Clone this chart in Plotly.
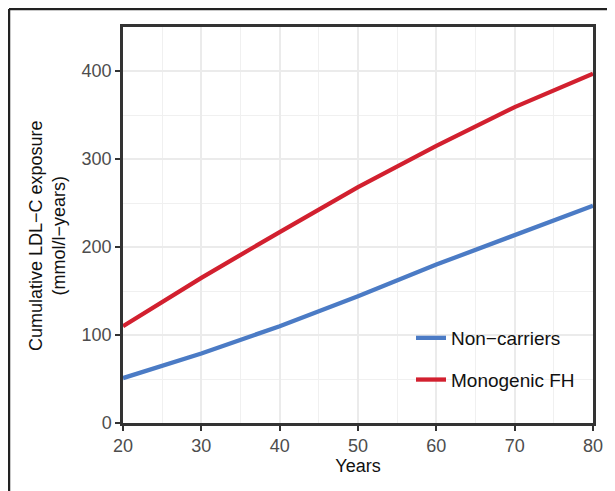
import plotly.graph_objects as go

years = [20, 30, 40, 50, 60, 70, 80]
non_carriers = [51, 79, 110, 144, 180, 214, 247]
monogenic_fh = [110, 165, 217, 268, 315, 359, 397]
series_names = ["Non\u2212carriers", "Monogenic FH"]
x_ticks = [20, 30, 40, 50, 60, 70, 80]
y_ticks = [0, 100, 200, 300, 400]
y_title = "Cumulative LDL\u2212C exposure<br>(mmol/l\u2212years)"
x_title = "Years"

BLUE = "#4B7BC5"
RED = "#D2202F"
FONT = "Liberation Sans, Arial, Helvetica, sans-serif"

# page has an 8px body margin; figure is sized to fit the window
OFF = 8
W, H = 615 - OFF, 491 - OFF
L, R, T, B = 115, 22, 19, 68
PW, PH = W - L - R, H - T - B


def px_x(page_x):
    return (page_x - OFF - L) / PW


def px_y(page_y):
    return (H - B - (page_y - OFF)) / PH


fig = go.Figure()
fig.add_trace(go.Scatter(x=years, y=non_carriers, mode="lines", name=series_names[0],
                         line=dict(color=BLUE, width=4.3), legendgroup="a"))
fig.add_trace(go.Scatter(x=years, y=monogenic_fh, mode="lines", name=series_names[1],
                         line=dict(color=RED, width=4.3), legendgroup="b"))

axis_common = dict(
    showline=True, linecolor="#333333", linewidth=2.5, mirror=True,
    ticks="outside", ticklen=5, tickwidth=2, tickcolor="#333333",
    tickfont=dict(family=FONT, size=18, color="#4d4d4d"),
    showgrid=True, gridcolor="#EBEBEB", gridwidth=1.5,
    zeroline=False,
)

fig.update_xaxes(
    range=[20, 80], tickvals=x_ticks,
    minor=dict(dtick=5, tick0=0, showgrid=True, gridcolor="#F0F0F0", gridwidth=1, ticks=""),
    title=dict(text=x_title, font=dict(family=FONT, size=18, color="#111111"), standoff=4),
    **axis_common,
)
fig.update_yaxes(
    range=[0, 450], tickvals=y_ticks,
    minor=dict(dtick=50, tick0=0, showgrid=True, gridcolor="#F0F0F0", gridwidth=1, ticks=""),
    **axis_common,
)

fig.add_annotation(text=y_title, textangle=-90, xref="paper", yref="paper",
                   x=px_x(47), y=px_y(236), xanchor="center", yanchor="middle",
                   showarrow=False, align="center",
                   font=dict(family=FONT, size=18, color="#111111"))

# outer frame (top and left edges visible)
fx = px_x(OFF + 1)
fy = px_y(OFF + 1)
fig.add_shape(type="line", xref="paper", yref="paper", x0=fx, x1=1.2, y0=fy, y1=fy,
              line=dict(color="#222222", width=2.5))
fig.add_shape(type="line", xref="paper", yref="paper", x0=fx, x1=fx, y0=fy, y1=-0.3,
              line=dict(color="#222222", width=2.5))

# white legend background area (covers gridlines like the reference)
fig.add_shape(type="rect", xref="paper", yref="paper", layer="between",
              x0=px_x(397), x1=px_x(581), y0=px_y(312), y1=px_y(406),
              fillcolor="white", line=dict(width=0))

fig.update_layout(
    width=W, height=H,
    margin=dict(l=L, r=R, t=T, b=B, autoexpand=False),
    paper_bgcolor="white", plot_bgcolor="white",
    showlegend=True,
    legend=dict(x=px_x(411), y=px_y(319), xanchor="left", yanchor="top",
                bgcolor="rgba(255,255,255,0)", borderwidth=0,
                font=dict(family=FONT, size=19, color="#111111"),
                tracegroupgap=14, itemwidth=30),
)

fig.write_html("out.html")
